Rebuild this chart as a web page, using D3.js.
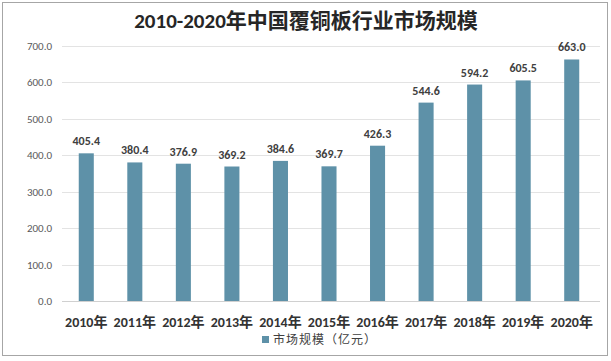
<!DOCTYPE html>
<html lang="zh">
<head>
<meta charset="UTF-8">
<title>覆铜板行业市场规模</title>
<style>
  body{margin:0;background:#fff;}
  svg{display:block;font-family:Calibri,"Noto Sans CJK SC","Noto Sans",sans-serif;}
</style>
</head>
<body>
<div id="chart"></div>
<script src="https://d3js.org/d3.v7.min.js"></script>
<script>
var years = ['2010年','2011年','2012年','2013年','2014年','2015年','2016年','2017年','2018年','2019年','2020年'];
var values = [405.4, 380.4, 376.9, 369.2, 384.6, 369.7, 426.3, 544.6, 594.2, 605.5, 663.0];
var yTicks = [0, 100, 200, 300, 400, 500, 600, 700];

var W = 611, H = 361;
var svg = d3.select('#chart').append('svg').attr('width', W).attr('height', H);

// outer border
svg.append('rect')
  .attr('x', 2.5).attr('y', 2.5)
  .attr('width', 605).attr('height', 353)
  .attr('fill', '#fff').attr('stroke', '#a6a6a6');

svg.append('text')
  .attr('x', 306).attr('y', 28)
  .attr('text-anchor', 'middle')
  .attr('font-size', 21).attr('font-weight', 'bold')
  .attr('fill', '#262626')
  .text('2010-2020年中国覆铜板行业市场规模');

var x = d3.scaleBand().domain(years).range([62, 596]).paddingInner(0.69).paddingOuter(0.345);
var y = d3.scaleLinear().domain([0, 700]).range([301, 46]);

// gridlines
svg.append('g').selectAll('line').data(yTicks).enter().append('line')
  .attr('x1', 62).attr('x2', 600)
  .attr('y1', d => Math.round(y(d)) + 0.5).attr('y2', d => Math.round(y(d)) + 0.5)
  .attr('stroke', d => d === 0 ? '#d0d0d0' : '#e3e3e3');

svg.append('g').selectAll('text').data(yTicks).enter().append('text')
  .attr('x', 52).attr('y', d => y(d) + 4)
  .attr('text-anchor', 'end')
  .attr('font-size', 11).attr('fill', '#595959')
  .text(d => d.toFixed(1));

// bars
svg.append('g').selectAll('rect').data(values).enter().append('rect')
  .attr('x', (d, i) => x(years[i]))
  .attr('width', x.bandwidth())
  .attr('y', d => y(d))
  .attr('height', d => y(0) - y(d))
  .attr('fill', '#5e91a8');

svg.append('g').selectAll('text').data(values).enter().append('text')
  .attr('x', (d, i) => x(years[i]) + x.bandwidth() / 2)
  .attr('y', d => y(d) - 8)
  .attr('text-anchor', 'middle')
  .attr('font-size', 12).attr('font-weight', 'bold')
  .attr('fill', '#404040')
  .text(d => d.toFixed(1));

// x labels
svg.append('g').selectAll('text').data(years).enter().append('text')
  .attr('x', d => x(d) + x.bandwidth() / 2)
  .attr('y', 327)
  .attr('text-anchor', 'middle')
  .attr('font-size', 14).attr('font-weight', 'bold')
  .attr('fill', '#333')
  .text(d => d);

// legend
svg.append('rect')
  .attr('x', 262).attr('y', 336).attr('width', 7).attr('height', 7)
  .attr('fill', '#5e91a8');
svg.append('text')
  .attr('x', 273).attr('y', 344)
  .attr('font-size', 12).attr('fill', '#404040')
  .attr('letter-spacing', 1)
  .text('市场规模（亿元）');
</script>
</body>
</html>
